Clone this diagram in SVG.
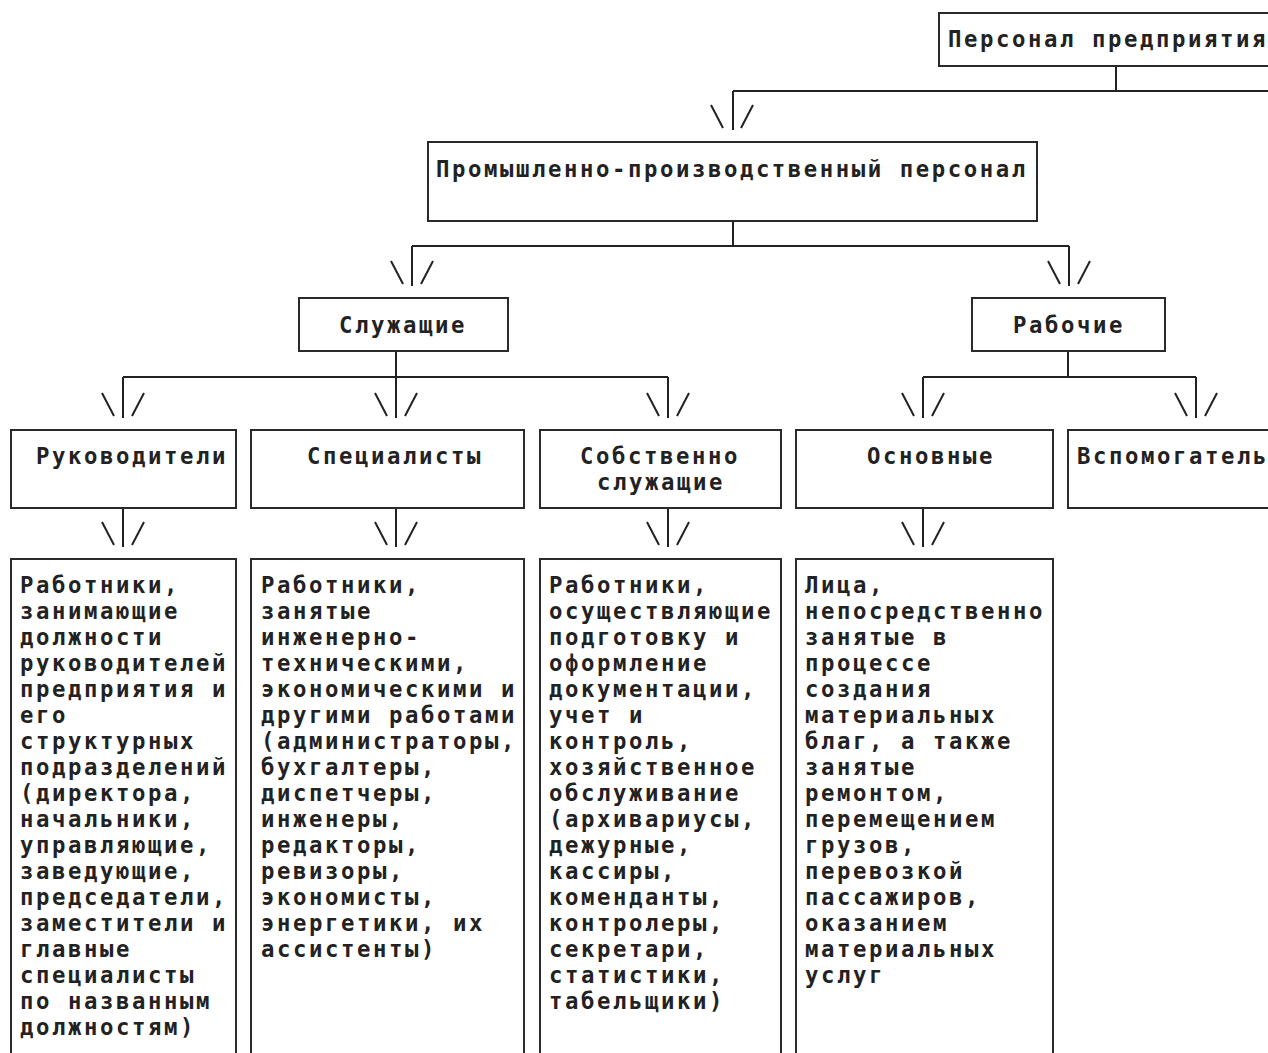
<svg xmlns="http://www.w3.org/2000/svg" width="1268" height="1053" viewBox="0 0 1268 1053">
<style>
.box{fill:#fff;stroke:#2a2a2a;stroke-width:2}
.t{font-family:"DejaVu Sans Mono","Liberation Mono",monospace;font-size:22.3px;font-weight:bold;letter-spacing:2.57px;fill:#222}
.c{fill:none;stroke:#222;stroke-width:2}
</style>
<rect width="1268" height="1053" fill="#fff"/>
<g id="connectors" class="c">
<path d="M1116,66V91M733,91H1270M733,91V130M711,105L723,128M753,105L741,128"/>
<path d="M733,221V246M412,246H1069M412,246V286M391,261L403,284M433,261L421,284M1069,246V286M1048,261L1060,284M1090,261L1078,284"/>
<path d="M396,351V377M123,377H668M123,377V418M102,393L114,416M144,393L132,416M396,377V418M375,393L387,416M417,393L405,416M668,377V418M647,393L659,416M689,393L677,416"/>
<path d="M1068,351V377M923,377H1196M923,377V418M902,393L914,416M944,393L932,416M1196,377V418M1175,393L1187,416M1217,393L1205,416"/>
<path d="M123,508V547M102,522L114,545M144,522L132,545M396,508V547M375,522L387,545M417,522L405,545M668,508V547M647,522L659,545M689,522L677,545M923,508V547M902,522L914,545M944,522L932,545"/>
</g>
<g id="n-personal"><rect class="box" x="939" y="13" width="340" height="53"/><text class="t" x="948" y="47">Персонал предприятия</text></g>
<g id="n-ppp"><rect class="box" x="428" y="142" width="609" height="79"/><text class="t" x="436" y="177">Промышленно-производственный персонал</text></g>
<g id="n-sluzh"><rect class="box" x="299" y="298" width="209" height="53"/><text class="t" x="339" y="333">Служащие</text></g>
<g id="n-rab"><rect class="box" x="972" y="298" width="193" height="53"/><text class="t" x="1013" y="333">Рабочие</text></g>
<g id="n-ruk"><rect class="box" x="11" y="430" width="225" height="78"/><text class="t" x="36" y="464">Руководители</text></g>
<g id="n-spec"><rect class="box" x="251" y="430" width="273" height="78"/><text class="t" x="307" y="464">Специалисты</text></g>
<g id="n-sobst"><rect class="box" x="540" y="430" width="241" height="78"/><text class="t" x="580" y="464">Собственно</text><text class="t" x="597" y="490">служащие</text></g>
<g id="n-osn"><rect class="box" x="796" y="430" width="257" height="78"/><text class="t" x="867" y="464">Основные</text></g>
<g id="n-vsp"><rect class="box" x="1068" y="430" width="220" height="78"/><text class="t" x="1077" y="464">Вспомогатель</text></g>
<g id="d-ruk"><rect class="box" x="11" y="559" width="225" height="520"/>
<text class="t" x="20" y="593">Работники,<tspan x="20" dy="26">занимающие</tspan><tspan x="20" dy="26">должности</tspan><tspan x="20" dy="26">руководителей</tspan><tspan x="20" dy="26">предприятия и</tspan><tspan x="20" dy="26">его</tspan><tspan x="20" dy="26">структурных</tspan><tspan x="20" dy="26">подразделений</tspan><tspan x="20" dy="26">(директора,</tspan><tspan x="20" dy="26">начальники,</tspan><tspan x="20" dy="26">управляющие,</tspan><tspan x="20" dy="26">заведующие,</tspan><tspan x="20" dy="26">председатели,</tspan><tspan x="20" dy="26">заместители и</tspan><tspan x="20" dy="26">главные</tspan><tspan x="20" dy="26">специалисты</tspan><tspan x="20" dy="26">по названным</tspan><tspan x="20" dy="26">должностям)</tspan></text></g>
<g id="d-spec"><rect class="box" x="251" y="559" width="273" height="520"/>
<text class="t" x="261" y="593">Работники,<tspan x="261" dy="26">занятые</tspan><tspan x="261" dy="26">инженерно-</tspan><tspan x="261" dy="26">техническими,</tspan><tspan x="261" dy="26">экономическими и</tspan><tspan x="261" dy="26">другими работами</tspan><tspan x="261" dy="26">(администраторы,</tspan><tspan x="261" dy="26">бухгалтеры,</tspan><tspan x="261" dy="26">диспетчеры,</tspan><tspan x="261" dy="26">инженеры,</tspan><tspan x="261" dy="26">редакторы,</tspan><tspan x="261" dy="26">ревизоры,</tspan><tspan x="261" dy="26">экономисты,</tspan><tspan x="261" dy="26">энергетики, их</tspan><tspan x="261" dy="26">ассистенты)</tspan></text></g>
<g id="d-sobst"><rect class="box" x="540" y="559" width="241" height="520"/>
<text class="t" x="549" y="593">Работники,<tspan x="549" dy="26">осуществляющие</tspan><tspan x="549" dy="26">подготовку и</tspan><tspan x="549" dy="26">оформление</tspan><tspan x="549" dy="26">документации,</tspan><tspan x="549" dy="26">учет и</tspan><tspan x="549" dy="26">контроль,</tspan><tspan x="549" dy="26">хозяйственное</tspan><tspan x="549" dy="26">обслуживание</tspan><tspan x="549" dy="26">(архивариусы,</tspan><tspan x="549" dy="26">дежурные,</tspan><tspan x="549" dy="26">кассиры,</tspan><tspan x="549" dy="26">коменданты,</tspan><tspan x="549" dy="26">контролеры,</tspan><tspan x="549" dy="26">секретари,</tspan><tspan x="549" dy="26">статистики,</tspan><tspan x="549" dy="26">табельщики)</tspan></text></g>
<g id="d-osn"><rect class="box" x="796" y="559" width="257" height="520"/>
<text class="t" x="805" y="593">Лица,<tspan x="805" dy="26">непосредственно</tspan><tspan x="805" dy="26">занятые в</tspan><tspan x="805" dy="26">процессе</tspan><tspan x="805" dy="26">создания</tspan><tspan x="805" dy="26">материальных</tspan><tspan x="805" dy="26">благ, а также</tspan><tspan x="805" dy="26">занятые</tspan><tspan x="805" dy="26">ремонтом,</tspan><tspan x="805" dy="26">перемещением</tspan><tspan x="805" dy="26">грузов,</tspan><tspan x="805" dy="26">перевозкой</tspan><tspan x="805" dy="26">пассажиров,</tspan><tspan x="805" dy="26">оказанием</tspan><tspan x="805" dy="26">материальных</tspan><tspan x="805" dy="26">услуг</tspan></text></g>
</svg>
